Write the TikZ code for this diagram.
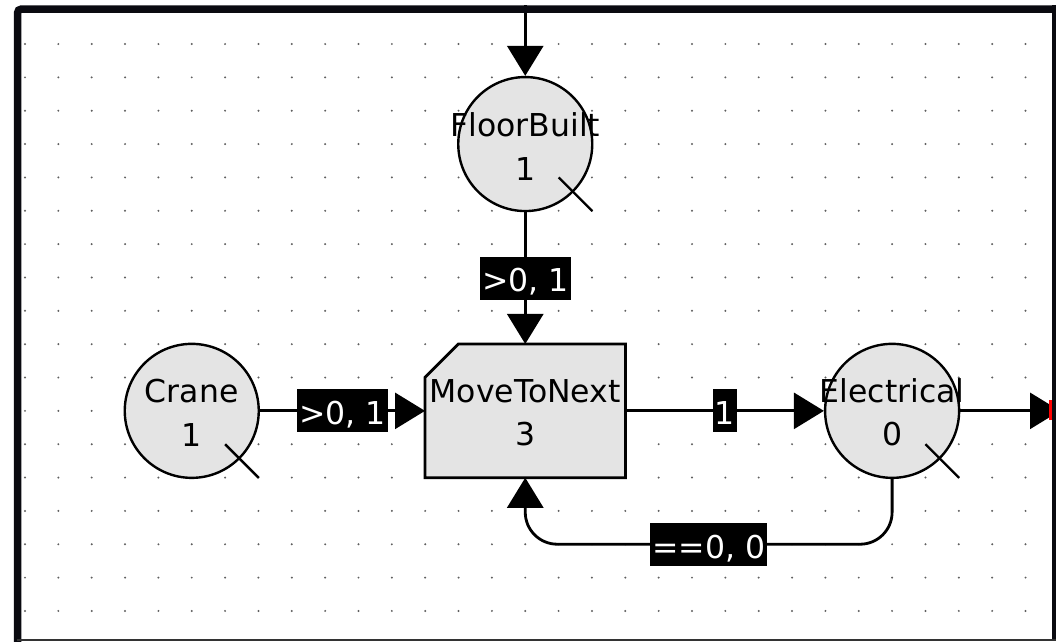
\documentclass[tikz,border=0pt]{standalone}
\usepackage{fontspec}
\setmainfont{DejaVu Sans}
\usetikzlibrary{arrows.meta,calc}
\definecolor{nodefill}{RGB}{228,228,228}
\definecolor{dotc}{RGB}{95,95,95}
\definecolor{framec}{RGB}{10,10,16}
\begin{document}
\begin{tikzpicture}[x=1pt,y=-1pt,
  place/.style={circle, draw=black, line width=2.4pt, fill=nodefill, minimum size=134pt, inner sep=0pt},
  txt/.style={font=\fontsize{31.5}{36}\selectfont, inner sep=0pt, anchor=base},
  lab/.style={fill=black, text=white, font=\fontsize{31.5}{36}\selectfont, inner xsep=2pt, inner ysep=0pt, text height=35.3pt, text depth=7.7pt, sharp corners},
  flow/.style={line width=2.8pt, -{Triangle[length=30pt,width=36pt]}},
  slash/.style={line width=2.4pt}]
\useasboundingbox (0,0) rectangle (1056,641);
\clip (0,0) rectangle (1056,641);
\fill[white] (0,0) rectangle (1056,641);
% grid dots
\foreach \i in {0,...,30}{
  \foreach \j in {0,...,17}{
    \fill[dotc] ({25+33.35*\i},{44+33.35*\j}) circle (1.1);
  }
}
% places
\node[place] (crane) at (191.75,410.85) {};
\node[place] (floor) at (525.25,144.05) {};
\node[place] (elec) at (892.1,410.85) {};
% transition
\node[minimum width=200.1pt, minimum height=133.4pt, inner sep=0pt] (move) at (525.25,410.85) {};
\draw[line width=2.8pt, fill=nodefill, line join=miter]
  ($(move.north west)+(0,33.35)$) -- ($(move.north west)+(33.35,0)$) -- (move.north east)
  -- (move.south east) -- (move.south west) -- cycle;
% slashes
\foreach \n in {crane,floor,elec}{
  \draw[slash] ($(\n)+(33.35,33.35)$) -- ($(\n)+(67,67)$);
}
% texts
\node[txt] (craneA) at ($(crane)+(0,-7.9)$) {Crane};
\node[txt] (craneB) at ($(crane)+(0,35.8)$) {1};
\node[txt] (floorA) at ($(floor)+(0,-7.6)$) {FloorBuilt};
\node[txt] (floorB) at ($(floor)+(0,36.5)$) {1};
\node[txt] (elecA) at ($(elec)+(0,-8.8)$) {Electrical};
\node[txt] (elecB) at ($(elec)+(0,34.5)$) {0};
\node[txt] (moveA) at ($(move)+(0,-8.8)$) {MoveToNext};
\node[txt] (moveB) at ($(move)+(0,34.5)$) {3};
% connectors
\coordinate (topin) at (525.25,5);
\coordinate (outR) at (1060,410.85);
\coordinate (lpR) at (892.1,544.2);
\coordinate (lpL) at (525.25,544.2);
\draw[flow] (topin) -- (floor);
\draw[flow] (floor) -- node[lab] (l1) {>0, 1} (move);
\draw[flow] (crane) -- node[lab] (l2) {>0, 1} (move);
\draw[flow] (move) -- node[lab] (l3) {1} (elec);
\draw[flow, rounded corners=32pt] (elec.south) -- (lpR) -- (lpL) -- (move.south);
\node[lab] (l4) at ($(lpR)!0.5!(lpL)$) {==0, 0};
\draw[flow] (elec) -- (outR);
\fill[red] (1049,400) rectangle (1052.5,420);
% frame
\draw[framec, line width=7.5pt, rounded corners=4pt] (17.5,650) -- (17.5,9) -- (1065,9);
\fill[framec] (1052,5) rectangle (1056,641);
\draw[black!80, line width=2pt] (17,639.5) -- (1056,639.5);
\end{tikzpicture}
\end{document}
